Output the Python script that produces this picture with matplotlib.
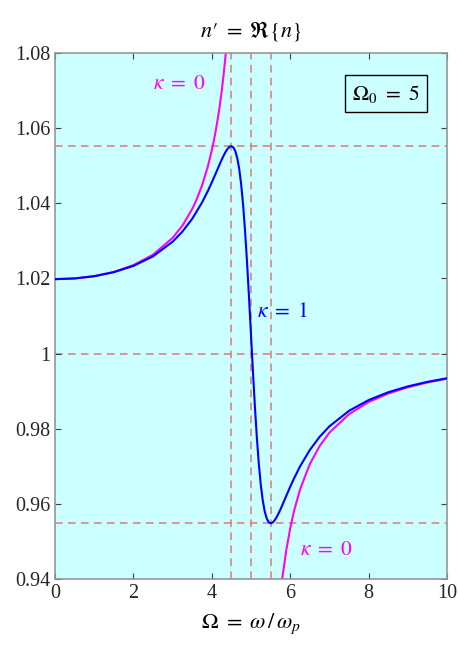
import matplotlib
matplotlib.use('Agg')
import matplotlib.pyplot as plt

# Curva sin perdidas (kappa = 0), rama inferior y rama superior
omega_k0_low = [0, 0.5, 1, 1.5, 2, 2.5, 3, 3.25, 3.5, 3.6, 3.75, 3.9, 4, 4.05, 4.1, 4.15, 4.2,
                4.25, 4.3, 4.36, 4.4]
n_k0_low = [1.01980, 1.02000, 1.02062, 1.02174, 1.02353, 1.02632, 1.03078, 1.03405, 1.03848,
            1.04070, 1.04471, 1.04983, 1.05409, 1.05656, 1.05929, 1.06234, 1.06577, 1.06965,
            1.07406, 1.08025, 1.08504]
omega_k0_high = [5.7, 5.75, 5.8, 5.9, 6, 6.1, 6.25, 6.5, 6.75, 7, 7.5, 8, 8.5, 9, 9.5, 10]
n_k0_high = [0.93086, 0.93593, 0.94035, 0.94766, 0.95346, 0.95818, 0.96379, 0.97058, 0.97538,
             0.97895, 0.98387, 0.98710, 0.98936, 0.99103, 0.99231, 0.99331]

# Curva con perdidas (kappa = 1)
omega_k1 = [0, 0.5, 1, 1.5, 2, 2.5, 3, 3.25, 3.5, 3.75, 3.9, 4, 4.05, 4.1, 4.15, 4.2, 4.25,
            4.3, 4.35, 4.4, 4.45, 4.5, 4.55, 4.6, 4.65, 4.7, 4.75, 4.8, 4.85, 4.9, 4.95, 5,
            5.05, 5.1, 5.15, 5.2, 5.25, 5.3, 5.35, 5.4, 5.45, 5.5, 5.55, 5.6, 5.65, 5.7, 5.75,
            5.8, 5.9, 6, 6.1, 6.25, 6.5, 6.75, 7, 7.5, 8, 8.5, 9, 9.5, 10]
n_k1 = [1.01980, 1.01999, 1.02058, 1.02165, 1.02333, 1.02587, 1.02976, 1.03246, 1.03587,
        1.04019, 1.04328, 1.04555, 1.04673, 1.04794, 1.04916, 1.05037, 1.05154, 1.05265,
        1.05365, 1.05446, 1.05501, 1.05519, 1.05487, 1.05387, 1.05201, 1.04910, 1.04493,
        1.03937, 1.03239, 1.02410, 1.01480, 1.00494, 0.99509, 0.98580, 0.97752, 0.97056,
        0.96502, 0.96087, 0.95797, 0.95612, 0.95513, 0.95481, 0.95500, 0.95556, 0.95638,
        0.95738, 0.95850, 0.95968, 0.96213, 0.96454, 0.96682, 0.96995, 0.97434, 0.97783,
        0.98063, 0.98476, 0.98762, 0.98970, 0.99126, 0.99247, 0.99343]

# Lineas de referencia (max, 1, min) y (pico, resonancia, valle)
ref_h = [1.0552, 1.0, 0.9548]
ref_v = [4.5, 5.0, 5.5]

xticks = [0, 2, 4, 6, 8, 10]
yticks = [0.94, 0.96, 0.98, 1.0, 1.02, 1.04, 1.06, 1.08]
ytick_labels = ['0.94', '0.96', '0.98', '1', '1.02', '1.04', '1.06', '1.08']

plt.rcParams['font.family'] = ['Liberation Serif', 'DejaVu Serif']
plt.rcParams['mathtext.fontset'] = 'stix'

fig = plt.figure(figsize=(4.59, 6.52), dpi=100)
ax = fig.add_axes([0.1198, 0.1120, 0.8541, 0.8067])
ax.set_facecolor('#ccffff')

dash_col = '#e07878'
for y in ref_h:
    ax.axhline(y, color=dash_col, linestyle=(0, (5, 3.5)), linewidth=1.1, zorder=1)
for x in ref_v:
    ax.axvline(x, color=dash_col, linestyle=(0, (5, 3.5)), linewidth=1.1, zorder=1)

ax.plot(omega_k0_low, n_k0_low, color='#ff00ff', linewidth=1.5, zorder=2)
ax.plot(omega_k0_high, n_k0_high, color='#ff00ff', linewidth=1.5, zorder=2)
ax.plot(omega_k1, n_k1, color='#0000ff', linewidth=1.5, zorder=3)

ax.text(2.5, 1.0715, r'$\kappa\ =\ 0$', color='#ff00ff', fontsize=15.5, va='center', ha='left')
ax.text(6.25, 0.9477, r'$\kappa\ =\ 0$', color='#ff00ff', fontsize=15.5, va='center', ha='left')
ax.text(5.15, 1.0109, r'$\kappa\ =\ 1$', color='#0000ff', fontsize=15.5, va='center', ha='left')
ax.text(8.44, 1.0691, r'$\Omega_0\ =\ 5$', color='black', fontsize=15.5, va='center', ha='center',
        bbox=dict(boxstyle='square,pad=0.35', facecolor='none', edgecolor='black', linewidth=1))

ax.set_xlim(0, 10)
ax.set_ylim(0.94, 1.08)
ax.set_xticks(xticks)
ax.set_yticks(yticks)
ax.set_yticklabels(ytick_labels)
ax.tick_params(direction='in', top=True, right=True, labelsize=14.5, length=4,
               color='#404040', labelcolor='#262626')
for s in ax.spines.values():
    s.set_color('#969696')
    s.set_linewidth(1.2)

ax.set_title("$n′\\ =\\ \\Re\\{n\\}$", fontsize=16, pad=12)
ax.set_xlabel(r'$\Omega\ =\ \omega\,/\,\omega_p$', fontsize=16, labelpad=6)

fig.savefig('out.png', dpi=100)
